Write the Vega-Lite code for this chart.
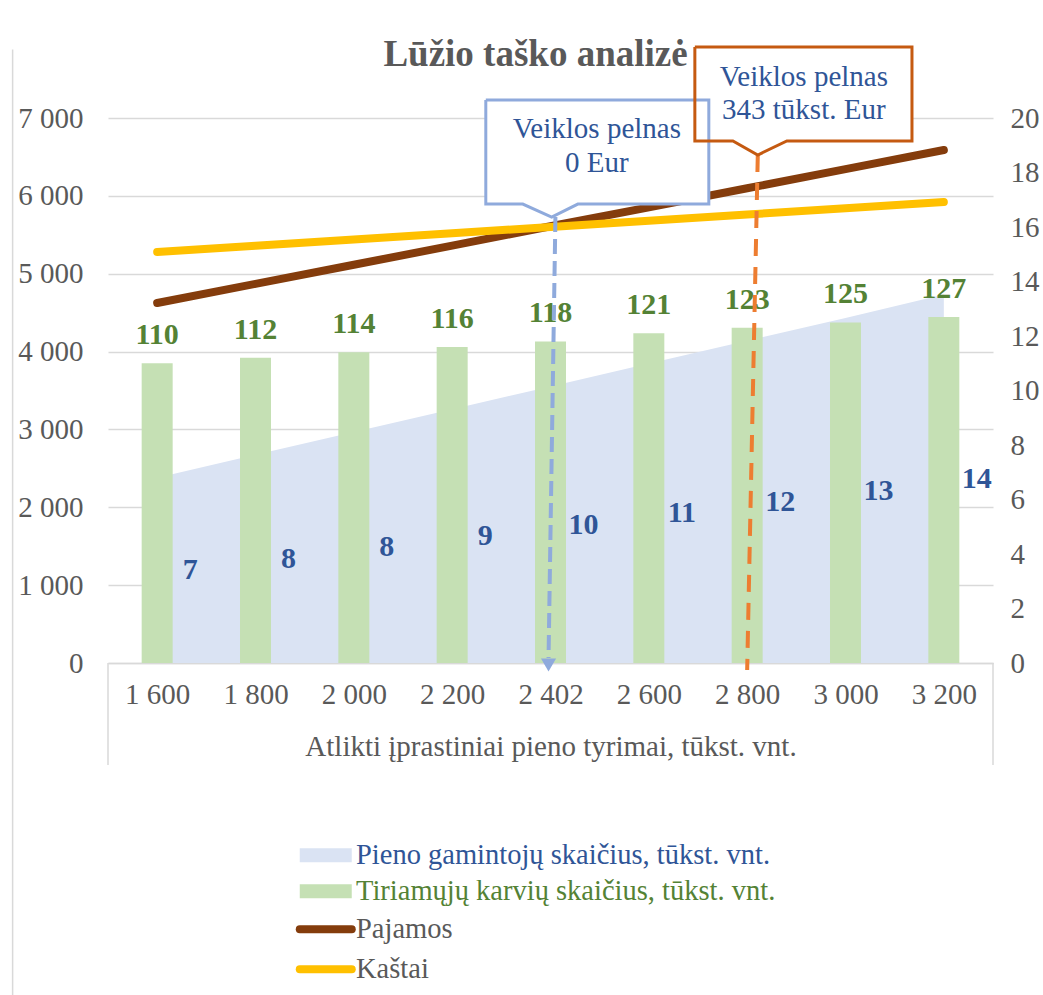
{
  "$schema": "https://vega.github.io/schema/vega-lite/v6.json",
  "width": 885,
  "height": 545,
  "autosize": {"type": "none"},
  "padding": {"left": 108, "top": 118, "right": 50, "bottom": 332},
  "background": "white",
  "config": {"font": "Liberation Serif", "view": {"stroke": null}},
  "title": {"text": "Lūžio taško analizė", "fontSize": 37, "fontWeight": "bold", "color": "#595959", "font": "Liberation Serif", "anchor": "middle", "frame": "group", "dx": -15, "baseline": "alphabetic", "offset": -62},
  "datasets": {
    "main": [
      {"i": 0, "cows": 110, "producers": 6.8, "Pajamos": 4624, "Kaštai": 5279},
      {"i": 1, "cows": 112, "producers": 7.64, "Pajamos": 4870, "Kaštai": 5359},
      {"i": 2, "cows": 114, "producers": 8.48, "Pajamos": 5115, "Kaštai": 5440},
      {"i": 3, "cows": 116, "producers": 9.31, "Pajamos": 5361, "Kaštai": 5520},
      {"i": 4, "cows": 118, "producers": 10.15, "Pajamos": 5609, "Kaštai": 5601},
      {"i": 5, "cows": 121, "producers": 10.99, "Pajamos": 5852, "Kaštai": 5680},
      {"i": 6, "cows": 123, "producers": 11.83, "Pajamos": 6098, "Kaštai": 5761},
      {"i": 7, "cows": 125, "producers": 12.66, "Pajamos": 6343, "Kaštai": 5841},
      {"i": 8, "cows": 127, "producers": 13.52, "Pajamos": 6589, "Kaštai": 5921}
    ],
    "frame": [
      {"i": -0.5, "v": 0, "v2": -1310},
      {"i": 8.5, "v": 0, "v2": -1310},
      {"i": -1.47, "v": 7880, "v2": -4300}
    ],
    "guides": [
      {"g": "blue", "i": 4.05, "i2": 3.98, "v": 5728, "v2": 64},
      {"g": "orange", "i": 6.108, "i2": 6.0, "v": 6525, "v2": -90}
    ],
    "arrow": [{"i": 3.98, "v": -26}],
    "boxes": [
      {"box": "blue", "i": 3.342, "i2": 5.61, "top": 7231, "bottom": 5895},
      {"box": "orange", "i": 5.468, "i2": 7.676, "top": 7912, "bottom": 6705}
    ],
    "outline": [
      {"box": "blue", "k": 0, "i": 3.342, "v": 7231},
      {"box": "blue", "k": 1, "i": 5.61, "v": 7231},
      {"box": "blue", "k": 2, "i": 5.61, "v": 5895},
      {"box": "blue", "k": 3, "i": 4.278, "v": 5895},
      {"box": "blue", "k": 4, "i": 4.012, "v": 5728},
      {"box": "blue", "k": 5, "i": 3.718, "v": 5895},
      {"box": "blue", "k": 6, "i": 3.342, "v": 5895},
      {"box": "blue", "k": 7, "i": 3.342, "v": 7231},
      {"box": "orange", "k": 0, "i": 5.468, "v": 7912},
      {"box": "orange", "k": 1, "i": 7.676, "v": 7912},
      {"box": "orange", "k": 2, "i": 7.676, "v": 6705},
      {"box": "orange", "k": 3, "i": 6.404, "v": 6705},
      {"box": "orange", "k": 4, "i": 6.108, "v": 6525},
      {"box": "orange", "k": 5, "i": 5.855, "v": 6705},
      {"box": "orange", "k": 6, "i": 5.468, "v": 6705},
      {"box": "orange", "k": 7, "i": 5.468, "v": 7912}
    ],
    "notes": [
      {"i": 4.471, "v": 6859, "t": "Veiklos pelnas"},
      {"i": 4.471, "v": 6422, "t": "0 Eur"},
      {"i": 6.576, "v": 7527, "t": "Veiklos pelnas"},
      {"i": 6.576, "v": 7103, "t": "343 tūkst. Eur"}
    ]
  },
  "encoding": {
    "x": {
      "field": "i", "type": "quantitative",
      "scale": {"domain": [-0.5, 8.5], "nice": false, "zero": false, "padding": 0},
      "axis": {
        "values": [0, 1, 2, 3, 4, 5, 6, 7, 8],
        "labelExpr": "datum.value == 0 ? '1 600' : datum.value == 1 ? '1 800' : datum.value == 2 ? '2 000' : datum.value == 3 ? '2 200' : datum.value == 4 ? '2 402' : datum.value == 5 ? '2 600' : datum.value == 6 ? '2 800' : datum.value == 7 ? '3 000' : '3 200'",
        "title": "Atlikti įprastiniai pieno tyrimai, tūkst. vnt.",
        "grid": false,
        "domainColor": "#D9D9D9", "domainWidth": 1.5,
        "ticks": false,
        "labelFontSize": 29, "labelColor": "#595959", "labelFont": "Liberation Serif",
        "labelPadding": 17, "labelFlush": false, "labelOverlap": false,
        "titleFontSize": 29, "titleFontWeight": "normal", "titleColor": "#595959", "titleFont": "Liberation Serif",
        "titlePadding": 23
      }
    }
  },
  "layer": [
    {
      "data": {"name": "main"},
      "mark": {"type": "area", "opacity": 1},
      "encoding": {
        "y": {
          "field": "producers", "type": "quantitative",
          "scale": {"domain": [0, 20], "nice": false},
          "axis": {"orient": "right", "values": [0, 2, 4, 6, 8, 10, 12, 14, 16, 18, 20], "format": "d", "title": null, "domain": false, "ticks": false, "grid": false, "labelFontSize": 29, "labelColor": "#595959", "labelFont": "Liberation Serif", "labelPadding": 17}
        },
        "color": {
          "datum": "Pieno gamintojų skaičius, tūkst. vnt.",
          "scale": {"domain": ["Pieno gamintojų skaičius, tūkst. vnt.", "Tiriamųjų karvių skaičius, tūkst. vnt.", "Pajamos", "Kaštai"], "range": ["#DAE3F3", "#C5E0B4", "#843C0C", "#FFC000"]}
        }
      }
    },
    {
      "data": {"name": "main"},
      "mark": {"type": "bar", "size": 31, "opacity": 1},
      "encoding": {
        "y": {"field": "cows", "type": "quantitative", "scale": {"domain": [0, 200], "nice": false}, "axis": null},
        "color": {
          "datum": "Tiriamųjų karvių skaičius, tūkst. vnt.",
          "scale": {"domain": ["Pieno gamintojų skaičius, tūkst. vnt.", "Tiriamųjų karvių skaičius, tūkst. vnt.", "Pajamos", "Kaštai"], "range": ["#DAE3F3", "#C5E0B4", "#843C0C", "#FFC000"]}
        }
      }
    },
    {
      "data": {"name": "frame"},
      "mark": {"type": "rule", "strokeWidth": 1.5, "color": "#D9D9D9"},
      "encoding": {
        "y": {"field": "v", "type": "quantitative", "scale": {"domain": [0, 7000], "nice": false}, "axis": null},
        "y2": {"field": "v2"}
      }
    },
    {
      "data": {"name": "main"},
      "transform": [{"fold": ["Pajamos", "Kaštai"], "as": ["series", "value"]}],
      "mark": {"type": "line", "strokeWidth": 8, "strokeCap": "round"},
      "encoding": {
        "y": {
          "field": "value", "type": "quantitative",
          "scale": {"domain": [0, 7000], "nice": false},
          "axis": {"values": [0, 1000, 2000, 3000, 4000, 5000, 6000, 7000], "format": ",d", "labelExpr": "replace(datum.label, ',', ' ')", "title": null, "domain": false, "ticks": false, "grid": true, "gridColor": "#D9D9D9", "gridWidth": 1.5, "labelFontSize": 29, "labelColor": "#595959", "labelFont": "Liberation Serif", "labelPadding": 25}
        },
        "color": {
          "field": "series", "type": "nominal",
          "scale": {"domain": ["Pieno gamintojų skaičius, tūkst. vnt.", "Tiriamųjų karvių skaičius, tūkst. vnt.", "Pajamos", "Kaštai"], "range": ["#DAE3F3", "#C5E0B4", "#843C0C", "#FFC000"]},
          "legend": {
            "orient": "none", "legendX": 203.5, "legendY": 723, "title": null, "direction": "vertical",
            "symbolSize": 900, "labelFontSize": 28.5, "labelFont": "Liberation Serif", "labelOffset": 16, "rowPadding": 7, "padding": 0, "labelLimit": 700,
            "encode": {
              "symbols": {"update": {
                "shape": {"signal": "datum.index >= 2 ? 'M-1.733,0H1.733' : 'M-1.733,-0.467H1.733V0.467H-1.733Z'"},
                "fill": {"signal": "datum.index == 0 ? '#DAE3F3' : datum.index == 1 ? '#C5E0B4' : 'transparent'"},
                "stroke": {"signal": "datum.index == 2 ? '#843C0C' : datum.index == 3 ? '#FFC000' : 'transparent'"},
                "strokeWidth": {"signal": "datum.index >= 2 ? 8 : 0"},
                "strokeCap": {"value": "round"},
                "opacity": {"value": 1}
              }},
              "labels": {"update": {"fill": {"signal": "datum.index == 0 ? '#2F5597' : datum.index == 1 ? '#548235' : '#595959'"}}}
            }
          }
        }
      }
    },
    {
      "data": {"name": "main"},
      "mark": {"type": "text", "fontSize": 30, "fontWeight": "bold", "font": "Liberation Serif", "color": "#548235", "baseline": "alphabetic", "dy": -19},
      "encoding": {
        "y": {"field": "cows", "type": "quantitative", "scale": {"domain": [0, 200], "nice": false}, "axis": null},
        "text": {"field": "cows", "type": "quantitative", "format": "d"}
      }
    },
    {
      "data": {"name": "main"},
      "mark": {"type": "text", "fontSize": 30, "fontWeight": "bold", "font": "Liberation Serif", "color": "#2F5597", "baseline": "middle", "dx": 33},
      "encoding": {
        "y": {"field": "producers", "type": "quantitative", "scale": {"domain": [0, 40], "nice": false}, "axis": null},
        "text": {"field": "producers", "type": "quantitative", "format": ".0f"}
      }
    },
    {
      "data": {"name": "guides"},
      "transform": [{"filter": "datum.g == 'blue'"}],
      "mark": {"type": "rule", "strokeWidth": 4, "strokeDash": [15, 7], "color": "#8FAADC"},
      "encoding": {
        "x2": {"field": "i2"},
        "y": {"field": "v", "type": "quantitative", "scale": {"domain": [0, 7000], "nice": false}, "axis": null},
        "y2": {"field": "v2"}
      }
    },
    {
      "data": {"name": "guides"},
      "transform": [{"filter": "datum.g == 'orange'"}],
      "mark": {"type": "rule", "strokeWidth": 4, "strokeDash": [17, 11], "color": "#ED7D31"},
      "encoding": {
        "x2": {"field": "i2"},
        "y": {"field": "v", "type": "quantitative", "scale": {"domain": [0, 7000], "nice": false}, "axis": null},
        "y2": {"field": "v2"}
      }
    },
    {
      "data": {"name": "arrow"},
      "mark": {"type": "point", "shape": "triangle-down", "filled": true, "size": 230, "color": "#8FAADC", "opacity": 1},
      "encoding": {
        "y": {"field": "v", "type": "quantitative", "scale": {"domain": [0, 7000], "nice": false}, "axis": null}
      }
    },
    {
      "data": {"name": "boxes"},
      "mark": {"type": "rect", "color": "white", "opacity": 1},
      "encoding": {
        "x2": {"field": "i2"},
        "y": {"field": "top", "type": "quantitative", "scale": {"domain": [0, 7000], "nice": false}, "axis": null},
        "y2": {"field": "bottom"}
      }
    },
    {
      "data": {"name": "outline"},
      "mark": {"type": "line", "strokeWidth": 3, "strokeJoin": "miter"},
      "encoding": {
        "y": {"field": "v", "type": "quantitative", "scale": {"domain": [0, 7000], "nice": false}, "axis": null},
        "detail": {"field": "box"},
        "order": {"field": "k", "type": "quantitative"},
        "stroke": {"field": "box", "type": "nominal", "scale": {"domain": ["blue", "orange"], "range": ["#8FAADC", "#C55A11"]}, "legend": null}
      }
    },
    {
      "data": {"name": "notes"},
      "mark": {"type": "text", "fontSize": 29, "font": "Liberation Serif", "color": "#2F5597", "baseline": "middle", "align": "center"},
      "encoding": {
        "y": {"field": "v", "type": "quantitative", "scale": {"domain": [0, 7000], "nice": false}, "axis": null},
        "text": {"field": "t"}
      }
    }
  ],
  "resolve": {"scale": {"y": "independent"}}
}
